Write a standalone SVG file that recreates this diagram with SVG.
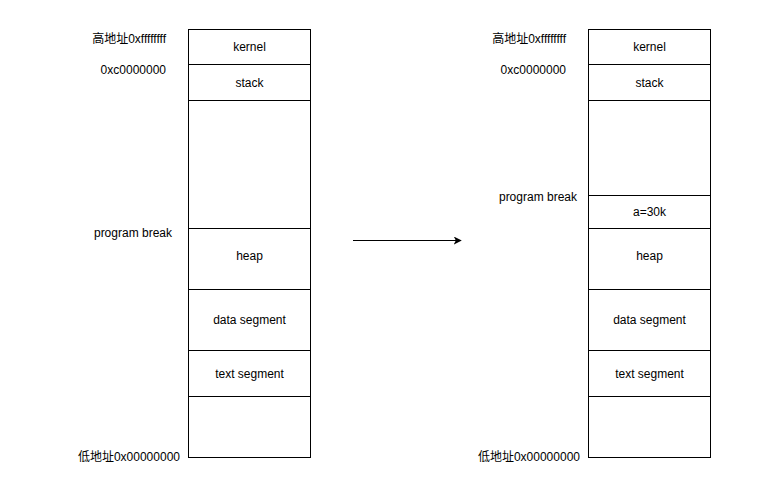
<svg xmlns="http://www.w3.org/2000/svg" width="769" height="498" viewBox="0 0 769 498">
<defs>
<style>
.box{fill:#fff;stroke:#000;stroke-width:1}
text{font-family:"Liberation Sans","Noto Sans CJK SC",sans-serif;font-size:12px;fill:#000}
.c{text-anchor:middle}
.r{text-anchor:end}
.conn{stroke:#000;stroke-width:1;fill:none}
</style>
<marker id="arr" viewBox="0 0 10 10" refX="9" refY="5" markerWidth="8" markerHeight="8" markerUnits="userSpaceOnUse" orient="auto">
<path d="M0,0 L10,5 L0,10 L2.5,5 Z" fill="#000"/>
</marker>
</defs>
<rect width="769" height="498" fill="#fff"/>
<g id="left-memory">
<g id="l-kernel"><rect class="box" x="188.5" y="29.5" width="122" height="35"/><text class="c" x="249.5" y="51">kernel</text></g>
<g id="l-stack"><rect class="box" x="188.5" y="64.5" width="122" height="36"/><text class="c" x="249.5" y="87">stack</text></g>
<g id="l-free"><rect class="box" x="188.5" y="100.5" width="122" height="128"/></g>
<g id="l-heap"><rect class="box" x="188.5" y="228.5" width="122" height="61"/><text class="c" x="249.5" y="260">heap</text></g>
<g id="l-data"><rect class="box" x="188.5" y="289.5" width="122" height="61"/><text class="c" x="249.5" y="324">data segment</text></g>
<g id="l-text"><rect class="box" x="188.5" y="350.5" width="122" height="46"/><text class="c" x="249.5" y="378">text segment</text></g>
<g id="l-bottom"><rect class="box" x="188.5" y="396.5" width="122" height="61"/></g>
</g>
<g id="left-labels">
<text class="r" x="166" y="43">高地址0xffffffff</text>
<text class="r" x="166" y="74">0xc0000000</text>
<text class="r" x="172" y="237">program break</text>
<text class="r" x="180" y="461">低地址0x00000000</text>
</g>
<g id="right-memory">
<g id="r-kernel"><rect class="box" x="588.5" y="29.5" width="122" height="35"/><text class="c" x="649.5" y="51">kernel</text></g>
<g id="r-stack"><rect class="box" x="588.5" y="64.5" width="122" height="36"/><text class="c" x="649.5" y="87">stack</text></g>
<g id="r-free"><rect class="box" x="588.5" y="100.5" width="122" height="95"/></g>
<g id="r-a"><rect class="box" x="588.5" y="195.5" width="122" height="33"/><text class="c" x="649.5" y="216">a=30k</text></g>
<g id="r-heap"><rect class="box" x="588.5" y="228.5" width="122" height="61"/><text class="c" x="649.5" y="260">heap</text></g>
<g id="r-data"><rect class="box" x="588.5" y="289.5" width="122" height="61"/><text class="c" x="649.5" y="324">data segment</text></g>
<g id="r-text"><rect class="box" x="588.5" y="350.5" width="122" height="46"/><text class="c" x="649.5" y="378">text segment</text></g>
<g id="r-bottom"><rect class="box" x="588.5" y="396.5" width="122" height="61"/></g>
</g>
<g id="right-labels">
<text class="r" x="566" y="43">高地址0xffffffff</text>
<text class="r" x="566" y="74">0xc0000000</text>
<text class="r" x="577" y="201">program break</text>
<text class="r" x="580" y="461">低地址0x00000000</text>
</g>
<g id="connectors">
<line class="conn" x1="353" y1="240.5" x2="461" y2="240.5" marker-end="url(#arr)"/>
</g>
</svg>
